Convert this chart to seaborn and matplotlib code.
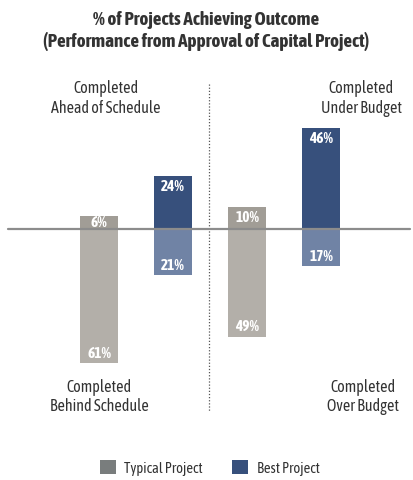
import matplotlib
matplotlib.use("Agg")
import matplotlib.pyplot as plt
from matplotlib import font_manager
from matplotlib.patches import Patch
import pandas as pd
import seaborn as sns

# ---------------------------------------------------------------------------
# Data
# ---------------------------------------------------------------------------
bars = ["Schedule Typical", "Schedule Best", "Budget Typical", "Budget Best"]
above_pct = [6, 24, 10, 46]     # ahead of schedule / under budget
below_pct = [61, 21, 49, 17]    # behind schedule / over budget

above_colors = ["#a19d96", "#37507c", "#a19d96", "#37507c"]
below_colors = ["#b3afa9", "#7083a5", "#b3afa9", "#7083a5"]

title = "% of Projects Achieving Outcome\n(Performance from Approval of Capital Project)"
corner_labels = [
    ("Completed\nAhead of Schedule", 0.257, 0.795),
    ("Completed\nUnder Budget", 0.875, 0.795),
    ("Completed\nBehind Schedule", 0.240, 0.175),
    ("Completed\nOver Budget", 0.878, 0.175),
]
legend_labels = ["Typical Project", "Best Project"]
legend_colors = ["#797d7d", "#37507c"]

sns.set_theme(style="white")

# look for a narrow face that also ships a bold weight
def weight_num(w):
    if isinstance(w, int):
        return w
    return {"light": 300, "normal": 400, "regular": 400, "medium": 500,
            "semibold": 600, "bold": 700, "heavy": 800, "black": 900}.get(str(w), 400)

faces = {}
dejavu_cond = set()
for f in font_manager.fontManager.ttflist:
    if "Narrow" in f.name or "Condensed" in f.name:
        faces.setdefault(f.name, set()).add(weight_num(f.weight))
    if f.name == "DejaVu Sans" and f.stretch == "condensed":
        dejavu_cond.add(weight_num(f.weight))

family, stretch = ["Liberation Sans", "DejaVu Sans"], "normal"
good = [n for n, w in faces.items() if max(w) >= 600 and min(w) <= 500]
if good:
    family = [sorted(good)[0], "DejaVu Sans"]
elif dejavu_cond and max(dejavu_cond) >= 600:
    family, stretch = ["DejaVu Sans"], "condensed"
cond = family[0] != "Liberation Sans"

plt.rcParams["font.family"] = family
plt.rcParams["font.stretch"] = stretch

df = pd.DataFrame({"bar": bars, "above": above_pct,
                   "below": [-v for v in below_pct]})

fig = plt.figure(figsize=(4.13, 4.81), dpi=100)
ax = fig.add_axes([0, 0, 1, 1])

sns.barplot(data=df, x="bar", y="above", hue="bar", palette=above_colors,
            width=0.51, legend=False, ax=ax, saturation=1, linewidth=0)
sns.barplot(data=df, x="bar", y="below", hue="bar", palette=below_colors,
            width=0.51, legend=False, ax=ax, saturation=1, linewidth=0)

ax.set_xlim(-1.34, 4.24)
ax.set_ylim(-114, 104.5)
ax.axis("off")

# baseline and divider
ax.plot([-1.23, 4.2], [0, 0], color="#8c8c8c", lw=1.6, zorder=3)
ax.plot([1.49, 1.49], [66, -83], color="#555555", lw=0.9,
        linestyle=(0, (1, 1.5)), zorder=1)

lab_fs = 11 if cond else 9
# value labels inside bar ends
for i, (a, b) in enumerate(zip(above_pct, below_pct)):
    ya = a - 4.6 if a > 9 else a / 2
    ax.text(i, ya, f"{a}%", ha="center", va="center", color="white",
            fontsize=lab_fs, fontweight="bold")
    ax.text(i, -b + 4.8, f"{b}%", ha="center", va="center", color="white",
            fontsize=lab_fs, fontweight="bold")

for txt, x, y in corner_labels:
    fig.text(x, y, txt, ha="center", va="center",
             fontsize=11.5 if cond else 9.5,
             color="#333333", linespacing=1.2)

fig.text(0.5, 0.935, title, ha="center", va="center",
         fontsize=13.8 if cond else 11.2,
         fontweight="bold", color="#333333", linespacing=1.2)

handles = [Patch(facecolor=c, edgecolor="none") for c in legend_colors]
fig.legend(handles, legend_labels, loc="center", ncol=2,
           bbox_to_anchor=(0.508, 0.025), frameon=False,
           fontsize=10.5 if cond else 9,
           handlelength=1.1, handleheight=1.1, columnspacing=2.0,
           handletextpad=0.6, labelcolor="#333333")

fig.savefig("out.png", dpi=100)
